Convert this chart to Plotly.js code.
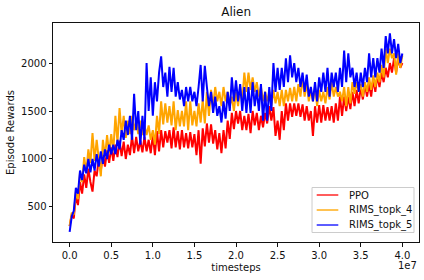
<!DOCTYPE html>
<html>
<head>
<meta charset="utf-8">
<script src="https://cdn.plot.ly/plotly-3.0.1.min.js"></script>
<style>html,body{margin:0;padding:0;background:#fff;}#chart{width:424px;height:280px;}</style>
</head>
<body>
<div id="chart"></div>
<script>
// timesteps step between samples
const stepSize = 250000;

const seriesNames = ["PPO", "RIMS_topk_4", "RIMS_topk_5"];

const ppo = [
 300,420, 380,620, 520,760, 640,840, 700,900, 760,660, 880,820, 1000,880, 1040,920, 1090,960,
 1120,980, 1150,1020, 1190,1030, 1180,1000, 1150,1040, 1240,1060, 1230,1080, 1190,1070, 1230,1080, 1200,1060,
 1250,1040, 1290,1080, 1300,1120, 1290,1170, 1300,1110, 1330,1120, 1290,1100, 1300,1120, 1270,1110, 1280,1120,
 1260,1040, 1300,950, 1320,1130, 1370,1170, 1360,1160, 1300,1100, 1270,1060, 1300,1110, 1400,1210, 1480,1310,
 1500,1370, 1500,1300, 1450,1300, 1470,1270, 1500,1350, 1480,1300, 1450,1330, 1480,1370, 1550,1400, 1540,1240,
 1400,1200, 1500,1300, 1580,1400, 1580,1440, 1580,1450, 1580,1440, 1570,1400, 1550,1400, 1500,1240, 1550,1380,
 1560,1380, 1560,1400, 1540,1400, 1550,1380, 1580,1400, 1650,1450, 1650,1500, 1650,1520, 1700,1550, 1720,1580,
 1750,1620, 1780,1650, 1780,1650, 1830,1700, 1870,1750, 1900,1800, 1950,1850, 2000,1900, 2050,1900, 2050,1950,
 2000
];

const topk4 = [
 300,440, 420,660, 580,860, 760,1020, 860,1100, 960,1270, 980,1200, 1000,820, 1200,1020, 1250,1060,
 1260,1080, 1450,1170, 1530,1260, 1450,1220, 1400,1260, 1450,1300, 1400,1260, 1400,1250, 1350,1250, 1350,1200,
 1300,1150, 1450,1260, 1600,1360, 1580,1380, 1550,1350, 1600,1300, 1510,1340, 1500,1340, 1600,1300, 1600,1350,
 1500,1340, 1580,1380, 1620,1370, 1700,1450, 1720,1550, 1750,1600, 1700,1550, 1750,1600, 1700,1550, 1650,1500,
 1700,1550, 1750,1600, 1900,1700, 1900,1720, 1850,1700, 1800,1650, 1750,1600, 1700,1600, 1700,1550, 1720,1580,
 1700,1550, 1720,1550, 1720,1600, 1740,1600, 1750,1600, 1780,1650, 1850,1650, 1800,1600, 1720,1600, 1750,1550,
 1720,1600, 1700,1580, 1750,1620, 1800,1650, 1750,1650, 1700,1600, 1750,1550, 1750,1580, 1800,1680, 1800,1700,
 1780,1650, 1800,1700, 1850,1720, 1870,1750, 1900,1800, 1980,1850, 2150,2000, 2150,2050, 2100,1880, 2100,1950,
 2080
];

const topk5 = [
 240,400, 460,700, 640,880, 780,940, 850,1000, 860,1000, 880,1050, 920,1080, 950,1100, 1000,1150,
 1050,1150, 1050,1200, 1100,1300, 1200,1400, 1250,1450, 1200,1680, 1300,1500, 1150,1450, 1200,2000, 1500,1850,
 1450,1800, 1600,1900, 2070,1750, 1900,1650, 1960,1700, 1950,1650, 1800,1620, 1720,1550, 1750,1600, 1750,1600,
 1700,1550, 1750,1980, 1600,1970, 1750,1550, 1700,1480, 1650,1450, 1550,1380, 1600,1420, 1700,1500, 1850,1600,
 1820,1600, 1780,1500, 1750,1480, 1750,1480, 1800,1550, 1720,1500, 1780,1400, 1700,1400, 1750,1500, 2000,1700,
 1950,1720, 1950,1750, 2050,1800, 2080,1850, 2000,1800, 1950,1750, 1900,1700, 1880,1650, 1750,1600, 1800,1600,
 1850,1700, 1900,1700, 1950,1650, 1900,1750, 1900,1700, 1950,1750, 2130,1800, 2100,1850, 1950,1750, 1900,1700,
 1900,1750, 1950,1800, 2100,1850, 2050,1850, 2050,1900, 2150,1950, 2280,2100, 2310,2100, 2250,2050, 2200,2000,
 2100
];

const xTickVals = [0, 5e6, 1e7, 1.5e7, 2e7, 2.5e7, 3e7, 3.5e7, 4e7];
const xTickText = ["0.0", "0.5", "1.0", "1.5", "2.0", "2.5", "3.0", "3.5", "4.0"];
const yTickVals = [500, 1000, 1500, 2000];
const yTickText = ["500", "1000", "1500", "2000"];

const colors = ["#ff0000", "#ffa500", "#0000ff"];
const legendColors = ["#ff4040", "#ffb833", "#4040ff"];
const allSeries = [ppo, topk4, topk5];

const traces = allSeries.map((vals, k) => ({
  type: "scatter",
  mode: "lines",
  name: seriesNames[k],
  x: vals.map((_, i) => i * stepSize),
  y: vals,
  line: {color: colors[k], width: 2},
  hoverinfo: "skip",
  showlegend: false
}));

const font = {family: "DejaVu Sans", size: 10, color: "#111"};

const axisCommon = {
  showline: true, linecolor: "#111", linewidth: 1, mirror: true,
  ticks: "outside", ticklen: 3.5, tickwidth: 1, tickcolor: "#111",
  showgrid: false, zeroline: false, tickfont: font
};

// manual matplotlib-style legend (paper coordinates)
const legBox = {x0: 0.7077, x1: 0.9863, y0: 0.0434, y1: 0.2489};
const legRowsY = [0.2146, 0.1461, 0.0776];
const shapes = [{
  type: "rect", xref: "paper", yref: "paper",
  x0: legBox.x0, x1: legBox.x1, y0: legBox.y0, y1: legBox.y1,
  fillcolor: "rgba(255,255,255,0.8)", line: {color: "#cccccc", width: 1}, layer: "above"
}];
const annotations = [];
seriesNames.forEach((nm, k) => {
  shapes.push({
    type: "line", xref: "paper", yref: "paper",
    x0: 0.7205, x1: 0.7795, y0: legRowsY[k], y1: legRowsY[k],
    line: {color: legendColors[k], width: 1.7}, layer: "above"
  });
  annotations.push({
    text: nm, xref: "paper", yref: "paper", x: 0.8025, y: legRowsY[k],
    xanchor: "left", yanchor: "middle", showarrow: false, font: font
  });
});
annotations.push({
  text: "1e7", xref: "paper", yref: "paper", x: 1, y: -0.108,
  xanchor: "right", yanchor: "middle", showarrow: false, font: font
});

const layout = {
  width: 424, height: 280,
  margin: {l: 53, r: 5, t: 23, b: 38},
  paper_bgcolor: "#fff", plot_bgcolor: "#fff",
  font: font,
  title: {text: "Alien", font: {family: "DejaVu Sans", size: 12, color: "#111"}, x: 0.557, xanchor: "center", y: 0.958, yanchor: "middle"},
  xaxis: Object.assign({}, axisCommon, {
    range: [-2e6, 4.2e7], tickmode: "array", tickvals: xTickVals, ticktext: xTickText,
    title: {text: "timesteps", font: font, standoff: 4}
  }),
  yaxis: Object.assign({}, axisCommon, {
    range: [135, 2417], tickmode: "array", tickvals: yTickVals, ticktext: yTickText,
    title: {text: "Episode Rewards", font: font, standoff: 4}
  }),
  showlegend: false,
  shapes: shapes,
  annotations: annotations
};

Plotly.newPlot("chart", traces, layout, {displayModeBar: false, staticPlot: true});
</script>
</body>
</html>
